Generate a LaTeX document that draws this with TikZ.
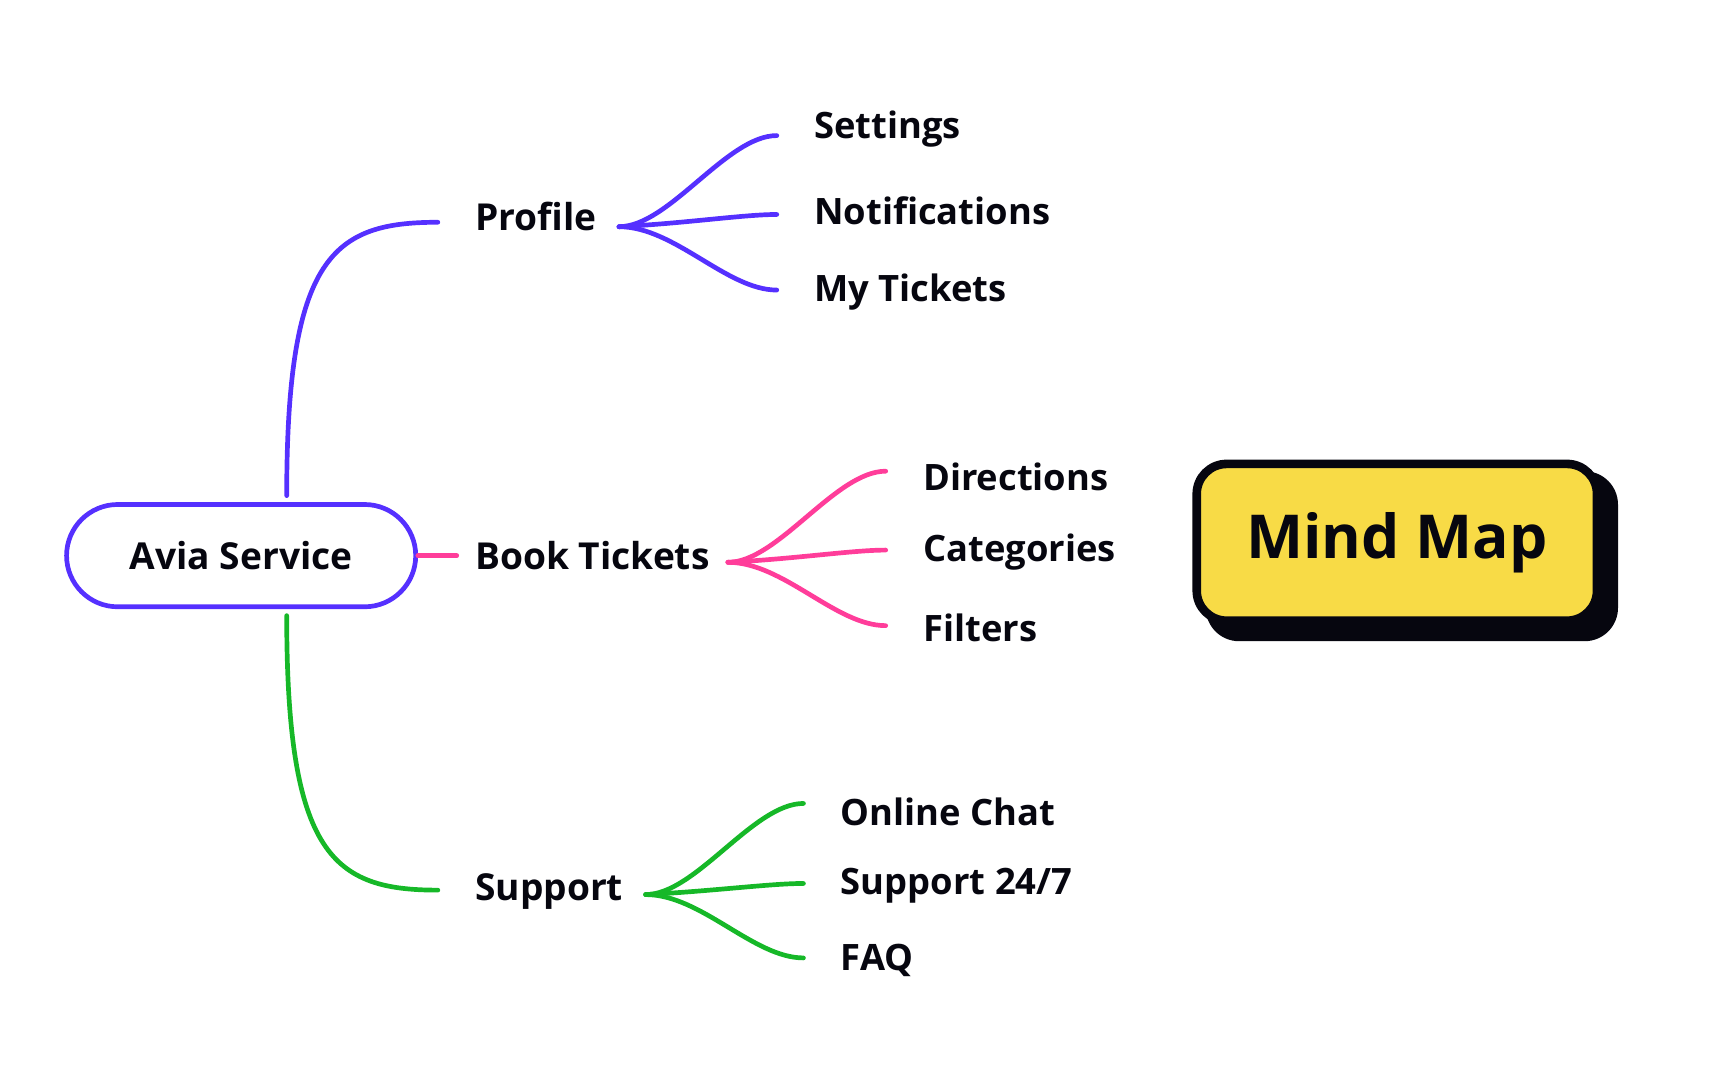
\documentclass[tikz,border=0pt]{standalone}
\usepackage{fontspec}
\setmainfont{Open Sans}
\definecolor{cpur}{HTML}{5530FF}
\definecolor{cpink}{HTML}{FF3D9A}
\definecolor{cgrn}{HTML}{16B828}
\definecolor{cyel}{HTML}{F8DB46}
\definecolor{cblk}{HTML}{06060F}
\begin{document}
\begin{tikzpicture}[x=0.01cm,y=-0.01cm,
  br/.style={line width=1.2pt,line cap=round},
  lab/.style={anchor=west,inner sep=0pt,font=\fontsize{9.5}{12}\selectfont\bfseries,text=cblk},
  leaf/.style={anchor=west,inner sep=0pt,font=\fontsize{9.3}{12}\selectfont\bfseries,text=cblk}]
\useasboundingbox (0,0) rectangle (1555,972);
% root
\node[draw=cpur,line width=1.2pt,rounded corners=0.46cm,minimum width=3.14cm,minimum height=0.92cm,
  font=\fontsize{9.5}{12}\selectfont\bfseries,text=cblk] (root) at (217,500) {Avia Service};
\coordinate (rt) at (258,446);
\coordinate (rb) at (258,554);
\coordinate (rr) at (376,500);
% main branches
\node[lab] (prof) at (427,195) {Profile};
\node[lab] (book) at (427,500) {Book Tickets};
\node[lab] (supp) at (427,802) {Support};
\coordinate (pe) at (394,200);
\coordinate (be) at (411,500);
\coordinate (se) at (394,801);
\draw[br,cpur] (rt) .. controls (258,230) and (300,200) .. (pe);
\draw[br,cgrn] (rb) .. controls (258,770) and (300,801) .. (se);
\draw[br,cpink] (rr) -- (be);
% fans
\foreach \ox/\oy/\ex/\ya/\yb/\yc/\col/\n in {557/204/699/122/193/261/cpur/p,655/506/797/424/495/563/cpink/b,581/805/723/723/795/862/cgrn/s}{
  \coordinate (\n o) at (\ox,\oy);
  \coordinate (\n a) at (\ex,\ya);
  \coordinate (\n b) at (\ex,\yb);
  \coordinate (\n c) at (\ex,\yc);
  \draw[br,\col] (\n o) .. controls ({\ox+45},\oy) and ({\ex-45},\ya) .. (\n a);
  \draw[br,\col] (\n o) .. controls ({\ox+60},{\oy-3}) and ({\ex-30},\yb) .. (\n b);
  \draw[br,\col] (\n o) .. controls ({\ox+50},\oy) and ({\ex-45},\yc) .. (\n c);
}
\node[leaf] (l1) at (732,116) {Settings};
\node[leaf] (l2) at (732,190) {Notifications};
\node[leaf] (l3) at (732,263) {My Tickets};
\node[leaf] (l4) at (830,429) {Directions};
\node[leaf] (l5) at (830,497) {Categories};
\node[leaf] (l6) at (830,565) {Filters};
\node[leaf] (l7) at (756,731) {Online Chat};
\node[leaf] (l8) at (756,797) {Support 24/7};
\node[leaf] (l9) at (756,864) {FAQ};
% mind map box
\fill[cblk,rounded corners=0.3cm] (1085,424) rectangle (1456,577);
\node[draw=cblk,fill=cyel,line width=2.2pt,rounded corners=0.27cm,minimum width=3.6cm,minimum height=1.41cm,
  font=\fontsize{15.5}{20}\selectfont\bfseries,text=cblk] (mm) at (1257,488) {Mind Map};
\end{tikzpicture}
\end{document}
